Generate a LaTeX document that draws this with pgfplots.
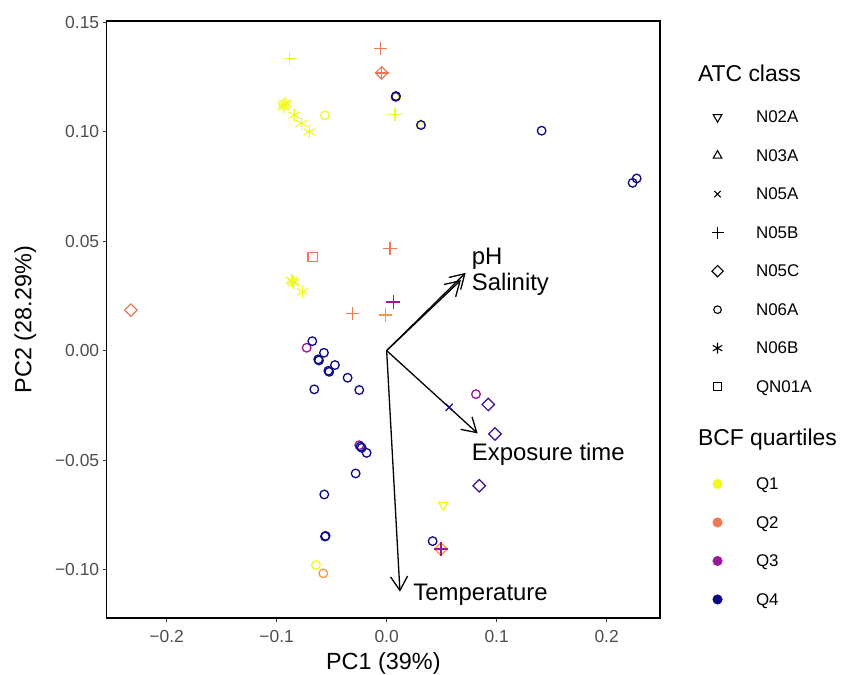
\documentclass[border=0pt]{standalone}
\usepackage{pgfplots}
\pgfplotsset{compat=1.18}
\usetikzlibrary{arrows.meta}
\usepackage{fontspec}
\setmainfont{Liberation Sans}
\definecolor{cA}{HTML}{F0F921}
\definecolor{cB}{HTML}{ED7953}
\definecolor{cBb}{HTML}{F89540}
\definecolor{cC}{HTML}{9C179E}
\definecolor{cD}{HTML}{0D0887}
\definecolor{cDb}{HTML}{3A0A98}
\definecolor{tickgray}{HTML}{4D4D4D}
\definecolor{tickline}{HTML}{333333}
\pgfplotsset{
  circ/.style={only marks, mark=o, mark size=4.3bp, line width=1.3bp, forget plot},
  plusm/.style={only marks, mark=+, mark size=6.8bp, line width=1.5bp, forget plot},
  aster/.style={only marks, mark=asterisk, mark size=6.5bp, line width=1.1bp, forget plot},
  diam/.style={only marks, mark=square, mark size=4.4bp, line width=1.2bp, mark options={rotate=45}, forget plot},
  sq/.style={only marks, mark=square, mark size=4.7bp, line width=1.2bp, forget plot},
  tri/.style={only marks, mark=triangle, mark size=5.5bp, line width=1.2bp, forget plot},
  trid/.style={only marks, mark=triangle, mark size=5.5bp, line width=1.2bp, mark options={rotate=180}, forget plot},
  crs/.style={only marks, mark=x, mark size=5bp, line width=1.3bp, forget plot},
  vec/.style={black, line width=1.3bp, no markers, forget plot, -{Straight Barb[length=14bp,width=17bp,line width=1.3bp]}},
}
\begin{document}
\begin{tikzpicture}
\path[use as bounding box] (-106.7bp,-57bp) rectangle (741.3bp,618bp);
\begin{axis}[
  at={(0,0)}, anchor=south west, scale only axis,
  width=553.3bp, height=597bp,
  xmin=-0.2545, xmax=0.2485, ymin=-0.1221, ymax=0.1505,
  xtick={-0.2,-0.1,0,0.1,0.2},
  xticklabels={−0.2,−0.1,0.0,0.1,0.2},
  ytick={-0.1,-0.05,0,0.05,0.1,0.15},
  yticklabels={−0.10,−0.05,0.00,0.05,0.10,0.15},
  tick align=outside, tick pos=left, major tick length=4bp,
  tick style={color=tickline, line width=1.1bp},
  axis line style={line width=1.1bp},
  ticklabel style={font=\fontsize{17.5}{20}\selectfont, text=tickgray},
  xticklabel style={yshift=-5bp},
  xlabel={PC1 (39\%)}, ylabel={PC2 (28.29\%)},
  xlabel style={yshift=-3bp},
  ylabel style={yshift=12bp},
  label style={font=\fontsize{23.5}{27}\selectfont},
  legend image code/.code={\path[draw=none,fill=none] (0bp,-2bp) rectangle (47.5bp,2bp); \draw[#1] plot coordinates {(9bp,5.7bp)};},
  legend style={at={(1.0877,0.918)}, anchor=north west, draw=none, fill=none,
    inner sep=0pt, outer sep=0pt, row sep=22.5bp, column sep=0bp,
    cells={anchor=base west},
    nodes={inner sep=0pt, outer sep=0pt, text height=12bp, text depth=4bp},
    font=\fontsize{17}{20}\selectfont},
]
% legend
\addlegendimage{empty legend}
\addlegendentry[text depth=6.4bp]{\hspace*{-58bp}{\fontsize{23}{27}\selectfont ATC class}}
\addlegendimage{only marks, mark=triangle, mark size=5bp, mark options={rotate=180}, line width=1.1bp, black}
\addlegendentry{N02A}
\addlegendimage{only marks, mark=triangle, mark size=5bp, line width=1.1bp, black}
\addlegendentry{N03A}
\addlegendimage{only marks, mark=x, mark size=4.5bp, line width=1.1bp, black}
\addlegendentry{N05A}
\addlegendimage{only marks, mark=+, mark size=6bp, line width=1.1bp, black}
\addlegendentry{N05B}
\addlegendimage{only marks, mark=square, mark size=4bp, mark options={rotate=45}, line width=1.1bp, black}
\addlegendentry{N05C}
\addlegendimage{only marks, mark=o, mark size=3.8bp, line width=1.1bp, black}
\addlegendentry{N06A}
\addlegendimage{only marks, mark=asterisk, mark size=5.5bp, line width=1.1bp, black}
\addlegendentry{N06B}
\addlegendimage{only marks, mark=square, mark size=3.8bp, line width=1.1bp, black}
\addlegendentry{QN01A}
\addlegendimage{empty legend}
\addlegendentry[text height=26.9bp, text depth=9.4bp]{\hspace*{-58bp}{\fontsize{23}{27}\selectfont BCF quartiles}}
\addlegendimage{only marks, mark=*, mark size=4.8bp, cA, draw=cA}
\addlegendentry{Q1}
\addlegendimage{only marks, mark=*, mark size=4.8bp, cB, draw=cB}
\addlegendentry{Q2}
\addlegendimage{only marks, mark=*, mark size=4.8bp, cC, draw=cC}
\addlegendentry{Q3}
\addlegendimage{only marks, mark=*, mark size=4.8bp, cD, draw=cD}
\addlegendentry{Q4}

% N03A (triangles), behind circles
\addplot[tri, cA] coordinates {(0.0082,0.1159) (0.0312,0.1030)};
% N02A
\addplot[trid, cA] coordinates {(0.0515,-0.0705)};
% N05C diamonds
\addplot[diam, cB] coordinates {(-0.0045,0.1268) (-0.2325,0.0185)};
\addplot[diam, cBb] coordinates {(0.0494,-0.0906)};
\addplot[diam, cDb] coordinates {(0.0924,-0.0246) (0.0985,-0.0381) (0.0842,-0.0617)};
% QN01A
\addplot[sq, cB] coordinates {(-0.0673,0.0428)};
% N06B asterisks
\addplot[aster, cA] coordinates {(-0.0940,0.1121) (-0.0925,0.1130) (-0.0935,0.1112) (-0.0915,0.1125)
  (-0.0840,0.1075) (-0.0773,0.1037) (-0.0704,0.0999)
  (-0.0855,0.0317) (-0.0845,0.0310) (-0.0865,0.0322) (-0.0764,0.0269)};
% N06A circles
\addplot[circ, cA] coordinates {(-0.0561,0.1074) (-0.0643,-0.0979)};
\addplot[circ, cBb] coordinates {(-0.0576,-0.1017)};
\addplot[circ, cC] coordinates {(-0.0727,0.0013) (0.0812,-0.0199) (-0.0249,-0.0432)};
\addplot[circ, cD] coordinates {(0.0082,0.1159) (0.0085,0.1162) (0.0312,0.1030) (0.1409,0.1004)
  (0.2236,0.0766) (0.2273,0.0786) (-0.0676,0.0043) (-0.0622,-0.0040) (-0.0615,-0.0045)
  (-0.0570,-0.0010) (-0.0522,-0.0097) (-0.0530,-0.0092) (-0.0470,-0.0066) (-0.0355,-0.0124)
  (-0.0658,-0.0177) (-0.0249,-0.0180) (-0.0238,-0.0438) (-0.0227,-0.0444) (-0.0182,-0.0467)
  (-0.0282,-0.0561) (-0.0567,-0.0657) (-0.0555,-0.0846) (-0.0560,-0.0849) (0.0418,-0.0870)};
% N05B plus
\addplot[plusm, cA] coordinates {(-0.0885,0.1334) (0.0075,0.1078)};
\addplot[plusm, cB] coordinates {(-0.0055,0.1380) (-0.0045,0.1268) (0.0030,0.0467) (-0.0309,0.0170)};
\addplot[plusm, cBb] coordinates {(-0.0009,0.0162)};
\addplot[plusm, cC] coordinates {(0.0060,0.0223) (0.0494,-0.0906)};
% N05A cross
\addplot[crs, cD] coordinates {(0.0569,-0.0259)};
% loading vectors
\addplot[vec] coordinates {(0,0) (0.0718,0.0355)};
\addplot[vec] coordinates {(0,0) (0.0675,0.0322)};
\addplot[vec] coordinates {(0,0) (0.0827,-0.0378)};
\addplot[vec] coordinates {(0,0) (0.0121,-0.1101)};
\node[anchor=base west, inner sep=0pt, font=\fontsize{24}{28}\selectfont] at (axis cs:0.0773,0.0395) {pH};
\node[anchor=base west, inner sep=0pt, font=\fontsize{24}{28}\selectfont] at (axis cs:0.0773,0.0273) {Salinity};
\node[anchor=base west, inner sep=0pt, font=\fontsize{24}{28}\selectfont] at (axis cs:0.0773,-0.0500) {Exposure time};
\node[anchor=base west, inner sep=0pt, font=\fontsize{24}{28}\selectfont] at (axis cs:0.0242,-0.1142) {Temperature};
\end{axis}
\end{tikzpicture}
\end{document}
